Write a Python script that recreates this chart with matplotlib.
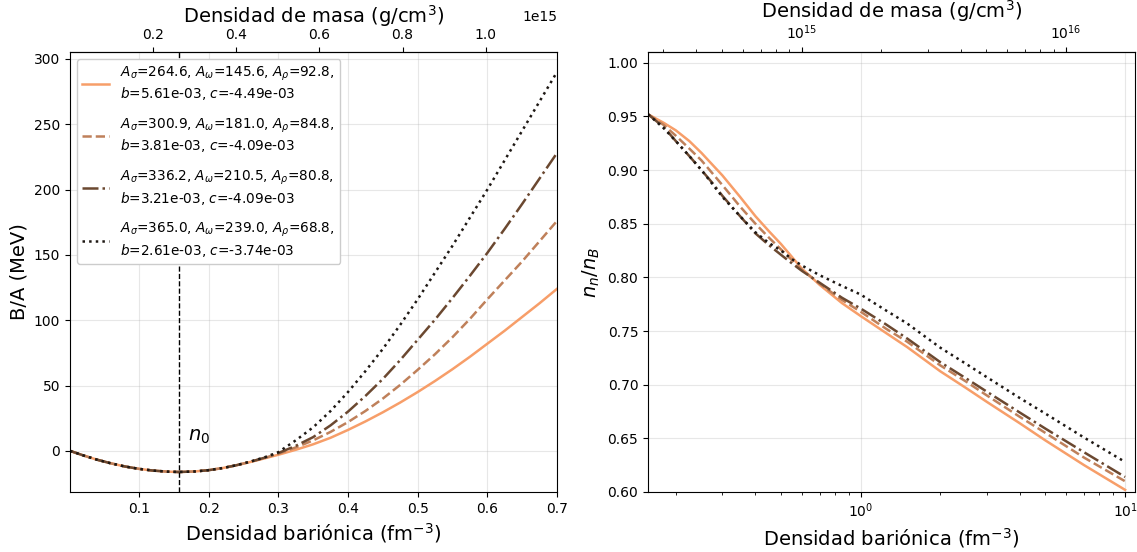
import numpy as np
import matplotlib
matplotlib.use("Agg")
import matplotlib.pyplot as plt
from matplotlib.ticker import NullFormatter

# ---------------- data ----------------
n0 = 0.157                      # saturation density (fm^-3)
m_nucleon = 1.6726e-24          # g
fm3_to_cm3 = 1e39

labels = [
    r"$A_\sigma$=264.6, $A_\omega$=145.6, $A_\rho$=92.8," "\n" r"$b$=5.61e-03, $c$=-4.49e-03",
    r"$A_\sigma$=300.9, $A_\omega$=181.0, $A_\rho$=84.8," "\n" r"$b$=3.81e-03, $c$=-4.09e-03",
    r"$A_\sigma$=336.2, $A_\omega$=210.5, $A_\rho$=80.8," "\n" r"$b$=3.21e-03, $c$=-4.09e-03",
    r"$A_\sigma$=365.0, $A_\omega$=239.0, $A_\rho$=68.8," "\n" r"$b$=2.61e-03, $c$=-3.74e-03",
]
colors = ["#f79e69", "#bf805a", "#6b4830", "#1e1814"]
styles = ["-", "--", "-.", ":"]

# left panel: binding energy per nucleon
n_left = [0.001, 0.02, 0.04, 0.06, 0.08, 0.10, 0.12, 0.14, 0.157, 0.18, 0.20,
          0.22, 0.24, 0.26, 0.28, 0.30, 0.325, 0.35, 0.375, 0.40, 0.425, 0.45,
          0.475, 0.50, 0.525, 0.55, 0.575, 0.60, 0.625, 0.65, 0.675, 0.70]
ba_1 = [0.0, -3.5, -6.8, -9.6, -12.0, -13.8, -15.1, -15.9, -16.2, -15.8, -14.8,
        -13.2, -11.0, -8.5, -5.8, -3.0, 0.8, 5.0, 10.0, 16.0, 22.5, 29.5,
        37.0, 45.0, 53.5, 62.5, 72.0, 82.0, 92.0, 102.5, 113.0, 124.0]
ba_2 = [0.0, -3.5, -6.8, -9.6, -12.0, -13.8, -15.1, -15.9, -16.2, -15.8, -14.8,
        -13.2, -11.0, -8.4, -5.5, -2.2, 2.6, 8.0, 14.5, 22.0, 30.5, 40.0,
        50.5, 62.0, 74.0, 87.0, 101.0, 116.0, 130.5, 145.0, 160.5, 176.0]
ba_3 = [0.0, -3.5, -6.8, -9.6, -12.0, -13.8, -15.1, -15.9, -16.2, -15.8, -14.8,
        -13.2, -11.0, -8.3, -5.3, -1.7, 3.8, 10.5, 19.5, 30.0, 42.0, 55.0,
        69.5, 85.0, 100.5, 117.0, 134.0, 151.5, 170.0, 189.0, 208.5, 228.0]
ba_4 = [0.0, -3.5, -6.8, -9.6, -12.0, -13.8, -15.1, -15.9, -16.2, -15.8, -14.8,
        -13.2, -11.0, -8.2, -5.0, -1.0, 8.0, 18.0, 30.5, 45.0, 61.0, 78.0,
        96.5, 116.0, 136.5, 157.0, 178.5, 200.0, 222.5, 245.0, 267.5, 290.0]

# right panel: neutron fraction
n_right = [0.157, 0.18, 0.20, 0.225, 0.25, 0.275, 0.30, 0.35, 0.40, 0.45, 0.50,
           0.55, 0.60, 0.70, 0.85, 1.0, 1.25, 1.5, 2.0, 2.5, 3.0, 4.0, 5.0,
           7.0, 10.0]
yn_1 = [0.952, 0.944, 0.937, 0.927, 0.916, 0.905, 0.895, 0.875, 0.857, 0.843, 0.831,
        0.819, 0.808, 0.793, 0.776, 0.764, 0.748, 0.735, 0.7125, 0.697, 0.684, 0.664, 0.648,
        0.625, 0.602]
yn_2 = [0.952, 0.942, 0.932, 0.920, 0.909, 0.897, 0.886, 0.866, 0.850, 0.837, 0.826,
        0.816, 0.807, 0.794, 0.779, 0.768, 0.752, 0.740, 0.718, 0.703, 0.690, 0.670, 0.655,
        0.632, 0.610]
yn_3 = [0.952, 0.940, 0.927, 0.913, 0.900, 0.888, 0.876, 0.857, 0.841, 0.830, 0.821,
        0.813, 0.806, 0.795, 0.781, 0.771, 0.756, 0.743, 0.721, 0.706, 0.6935, 0.674, 0.659,
        0.637, 0.614]
yn_4 = [0.952, 0.939, 0.927, 0.913, 0.900, 0.887, 0.875, 0.857, 0.842, 0.832, 0.825,
        0.817, 0.811, 0.802, 0.792, 0.784, 0.769, 0.757, 0.7345, 0.7195, 0.707, 0.6875, 0.673,
        0.6507, 0.628]

ba_all = [ba_1, ba_2, ba_3, ba_4]
yn_all = [yn_1, yn_2, yn_3, yn_4]


def to_mass(n):
    return np.asarray(n) * m_nucleon * fm3_to_cm3


def to_n(rho):
    return np.asarray(rho) / (m_nucleon * fm3_to_cm3)


# ---------------- figure ----------------
W, H = 1137, 552
fig = plt.figure(figsize=(W / 100, H / 100), dpi=100)
ax1 = fig.add_axes([70 / W, 60 / H, 487 / W, 440 / H])
ax2 = fig.add_axes([648 / W, 60 / H, 487 / W, 440 / H])

for ba, c, ls, lab in zip(ba_all, colors, styles, labels):
    ax1.plot(n_left, ba, color=c, linestyle=ls, linewidth=1.8, label=lab)
ax1.axvline(n0, color="black", linestyle="--", linewidth=1)
ax1.text(0.17, 8, r"$n_0$", fontsize=14)
ax1.set_xlim(n_left[0], 0.7)
ax1.set_xlabel(r"Densidad bariónica (fm$^{-3}$)", fontsize=14)
ax1.set_ylabel("B/A (MeV)", fontsize=14)
ax1.grid(True, alpha=0.3)
ax1.legend(loc="upper left", fontsize=9.8, labelspacing=1.05, framealpha=1)
sec1 = ax1.secondary_xaxis("top", functions=(to_mass, to_n))
sec1.set_xlabel(r"Densidad de masa (g/cm$^3$)", fontsize=14)

for yn, c, ls in zip(yn_all, colors, styles):
    ax2.plot(n_right, yn, color=c, linestyle=ls, linewidth=1.8)
ax2.set_xscale("log")
ax2.set_xlim(n_right[0], 10.9)
ax2.set_ylim(0.6, 1.01)
ax2.set_xlabel(r"Densidad bariónica (fm$^{-3}$)", fontsize=14)
ax2.set_ylabel(r"$n_n/n_B$", fontsize=14)
ax2.grid(True, alpha=0.3)
sec2 = ax2.secondary_xaxis("top", functions=(to_mass, to_n))
sec2.xaxis.set_minor_formatter(NullFormatter())
sec2.set_xlabel(r"Densidad de masa (g/cm$^3$)", fontsize=14)

fig.savefig("out.png", dpi=100)
